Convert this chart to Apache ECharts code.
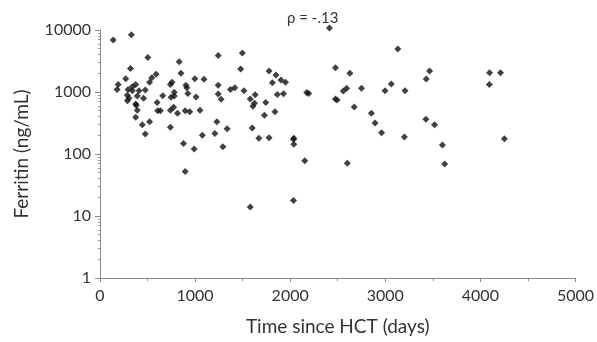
<!DOCTYPE html>
<html><head><meta charset="utf-8">
<script src="https://cdn.jsdelivr.net/npm/echarts@6/dist/echarts.min.js"></script>
<style>html,body{margin:0;padding:0;background:#fff}#c{width:597px;height:342px}</style>
</head><body><div id="c"></div>
<script>
// Time since HCT (days)
const days = [139,330,503,833,1243,320,590,545,521,851,271,191,180,375,340,340,295,410,476,288,288,392,458,305,375,382,392,375,445,521,476,740,757,781,747,781,660,601,607,635,740,774,816,896,944,1052,903,913,924,1010,997,1094,1243,1243,740,1229,1208,1076,878,990,896,
 1497,1479,1778,1851,1813,1903,1951,1274,1372,1417,1514,1632,1580,1625,1608,1743,1865,1930,2174,2194,2476,2476,1840,1729,1337,1601,1670,1778,2038,2413,1292,2035,2038,2153,2035,1580,
 3132,2628,3466,3431,3063,2594,2559,2750,2997,3208,2493,2674,2854,2893,2961,3201,3427,3518,3601,3625,2601,4097,4212,4094,4253];
// Ferritin (ng/mL)
const ferritin = [6900,8400,3600,3080,3870,2400,1940,1700,1440,2000,1630,1320,1100,1320,1220,1050,1100,1050,1075,890,725,865,790,790,640,610,510,390,296,330,210,1320,1430,995,820,865,870,680,500,500,510,565,455,500,480,510,1280,1170,950,830,1630,1600,1280,930,270,330,215,200,148,120,52,
 4260,2350,2180,1880,1410,1560,1440,765,1100,1170,1050,905,770,660,590,680,915,940,980,950,770,2460,480,420,256,262,180,183,180,10800,131,173,143,78,17.8,14,
 4920,2000,2180,1620,1340,1150,1040,1150,1050,1050,740,575,455,315,220,188,363,296,140,69,71,2040,2040,1320,177];
const xTicks = [0,1000,2000,3000,4000,5000];
const yTicks = [1,10,100,1000,10000];
const rhoText = 'ρ = -.13';

const points = days.map((d,i)=>[d, ferritin[i]]);
const chart = echarts.init(document.getElementById('c'));
const font = 'Lato, "Open Sans", sans-serif';
chart.setOption({
  animation:false,
  grid:{left:100,right:17,top:30,bottom:64},
  xAxis:{type:'value',min:xTicks[0],max:xTicks[xTicks.length-1],interval:1000,
    name:'Time since HCT (days)',nameLocation:'middle',nameGap:39,
    nameTextStyle:{fontFamily:font,fontSize:19,color:'#333'},
    axisLine:{show:true,lineStyle:{color:'#8a8a8a',width:1}},
    axisTick:{show:true,length:4,lineStyle:{color:'#8a8a8a'}},
    minorTick:{show:true,splitNumber:2,length:3,lineStyle:{color:'#8a8a8a'}},
    splitLine:{show:false},
    axisLabel:{fontFamily:font,fontSize:16,color:'#333',margin:10,formatter:v=>String(v)}},
  yAxis:{type:'log',logBase:10,min:yTicks[0],max:yTicks[yTicks.length-1],
    name:'Ferritin (ng/mL)',nameLocation:'middle',nameGap:69,
    nameTextStyle:{fontFamily:font,fontSize:19,color:'#333'},
    axisLine:{show:true,lineStyle:{color:'#8a8a8a',width:1}},
    axisTick:{show:true,length:5,lineStyle:{color:'#8a8a8a'}},
    minorTick:{show:true,splitNumber:9,length:2,lineStyle:{color:'#9a9a9a'}},
    splitLine:{show:false},
    axisLabel:{fontFamily:font,fontSize:16,color:'#333',margin:9,formatter:v=>String(v)}},
  graphic:[{type:'text',left:287,top:11,style:{text:rhoText,font:'15px '+font,fill:'#333'}}],
  series:[{type:'scatter',data:points,symbol:'diamond',symbolSize:7,clip:false,
    itemStyle:{color:'#111'}}]
});
</script></body></html>
